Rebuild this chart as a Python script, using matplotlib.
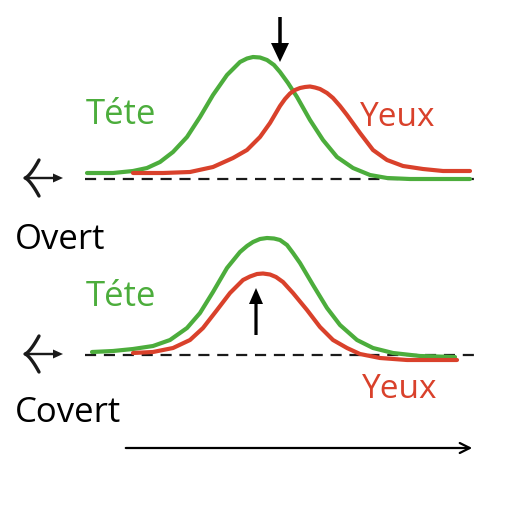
import numpy as np
import matplotlib.pyplot as plt

# Courbes (x, y en pixels, y vers le bas)
# Panneau du haut : Overt
tete_haut_x = [87, 113, 133, 147, 160, 173, 187, 200, 213, 227, 240, 247, 253, 260, 267, 274, 280,
               288, 297, 310, 323, 337, 353, 370, 387, 410, 437, 470]
tete_haut_y = [173, 173, 171, 168, 162, 152, 137, 117, 95, 75, 62, 58.5, 57, 57.5, 60, 65, 72,
               83, 97, 120, 140, 157, 168, 175, 178, 179, 179, 179]
yeux_haut_x = [133, 163, 190, 213, 233, 247, 260, 270, 280, 285, 290, 295, 300, 305, 310, 315, 320,
               327, 333, 340, 347, 360, 373, 387, 403, 423, 443, 470]
yeux_haut_y = [173, 173, 172, 167, 158, 150, 137, 123, 106, 99, 93.5, 90, 88, 87, 86.5, 87.5, 89,
               93, 98, 106, 115, 133, 150, 160, 166, 169, 171, 171]

# Panneau du bas : Covert
tete_bas_x = [92, 113, 133, 153, 170, 187, 200, 213, 227, 240, 247, 253, 260, 267, 274, 280, 287,
              293, 300, 313, 327, 340, 357, 373, 393, 420, 455]
tete_bas_y = [352, 351, 349, 346, 340, 328, 313, 292, 268, 252, 246, 242, 239, 238, 238.5, 240, 245,
              253, 263, 285, 308, 325, 340, 348, 353, 356, 357]
yeux_bas_x = [133, 153, 173, 190, 203, 217, 230, 237, 243, 250, 257, 263, 270, 276, 283,
              293, 307, 320, 333, 347, 360, 380, 407, 457]
yeux_bas_y = [353, 352, 348, 340, 328, 310, 293, 286, 280, 276.5, 274, 273.5, 274.5, 277, 282,
              293, 310, 327, 340, 348, 354, 358, 360, 360]

vert = '#4cad3c'
rouge = '#d9412b'
noir = '#1a1a1a'

fig = plt.figure(figsize=(5.12, 5.12), dpi=100)
ax = fig.add_axes([0, 0, 1, 1])
ax.set_xlim(0, 512)
ax.set_ylim(512, 0)
ax.axis('off')

# lignes de base pointillées
for yb in (179, 355):
    ax.plot([85, 480], [yb, yb], color=noir, lw=1.6, ls=(0, (5, 3.5)))

style = dict(lw=3, solid_joinstyle='round', solid_capstyle='round')
ax.plot(tete_haut_x, tete_haut_y, color=vert, **style)
ax.plot(yeux_haut_x, yeux_haut_y, color=rouge, **style)
ax.plot(tete_bas_x, tete_bas_y, color=vert, **style)
ax.plot(yeux_bas_x, yeux_bas_y, color=rouge, **style)

# petites flèches à gauche (pointe courbe à gauche, petite tête pleine à droite)
for yb in (178, 354):
    ax.arrow(25, yb, 38, 0, width=2.4, head_width=9, head_length=10,
             length_includes_head=True, color=noir, lw=0)
    s = np.linspace(-1, 1, 41)
    ax.plot(25 + 14 * np.abs(s) ** 0.7, yb + 18 * s, color=noir, lw=2.4,
            solid_capstyle='round', solid_joinstyle='round')

# flèches verticales
ax.arrow(280, 17, 0, 45, width=3.5, head_width=18, head_length=19,
         length_includes_head=True, color='black', lw=0)
ax.arrow(256, 335, 0, -47, width=3.2, head_width=14, head_length=16,
         length_includes_head=True, color='black', lw=0)

# axe du temps
ax.annotate('', xy=(475, 448), xytext=(123, 448),
            arrowprops=dict(arrowstyle='->', color='black', lw=1.6, mutation_scale=18))

fnt = 'Open Sans'
ax.text(86, 115, 'Téte', color=vert, fontsize=25, family=fnt, va='center', ha='left')
ax.text(360, 118, 'Yeux', color=rouge, fontsize=24, family=fnt, va='center', ha='left')
ax.text(15, 240, 'Overt', color='black', fontsize=25, family=fnt, va='center', ha='left')
ax.text(86, 297, 'Téte', color=vert, fontsize=25, family=fnt, va='center', ha='left')
ax.text(362, 390, 'Yeux', color=rouge, fontsize=24, family=fnt, va='center', ha='left')
ax.text(15, 413, 'Covert', color='black', fontsize=25, family=fnt, va='center', ha='left')

fig.savefig('out.png', dpi=100)
